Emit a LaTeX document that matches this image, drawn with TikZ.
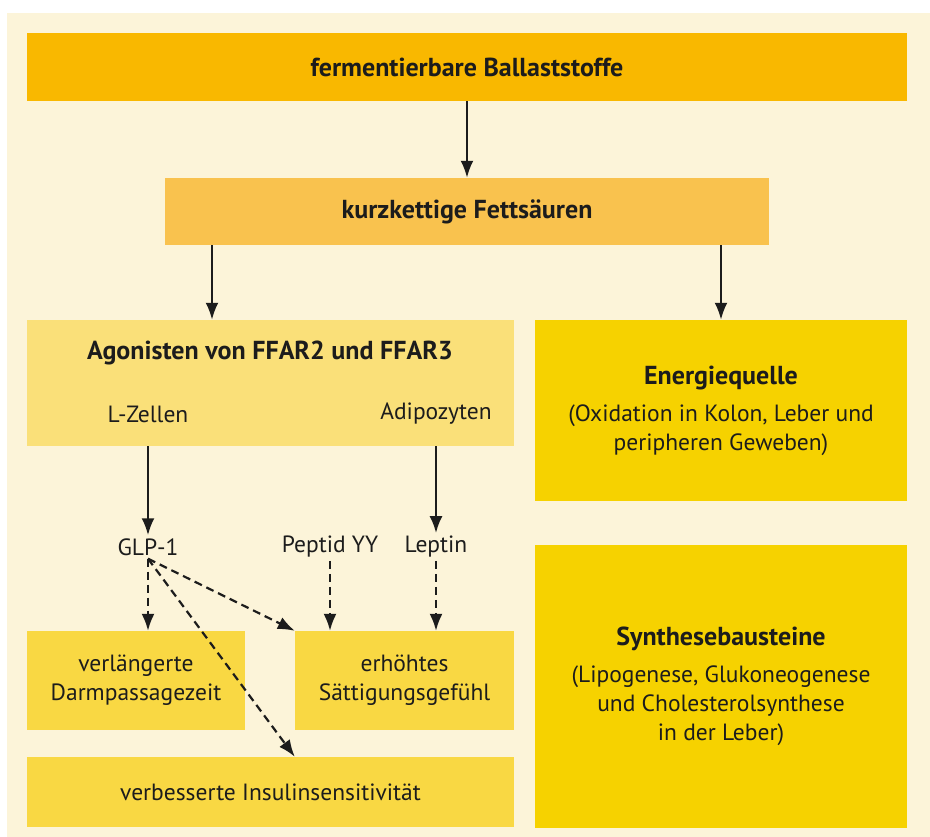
\documentclass[tikz,border=0pt]{standalone}
\usepackage{fontspec}
\setmainfont{PT Sans}
\usetikzlibrary{arrows.meta,positioning,calc}
\definecolor{bgcream}{HTML}{FCF4D9}
\definecolor{boxorange}{HTML}{F9B800}
\definecolor{boxlight}{HTML}{F9C24E}
\definecolor{boxpale}{HTML}{FAE079}
\definecolor{boxyellow}{HTML}{F9D843}
\definecolor{boxgold}{HTML}{F6D200}
\definecolor{ink}{HTML}{1C1C1C}
\newcommand{\ttl}[1]{{\fontsize{26}{29}\selectfont\bfseries #1}}

\begin{document}
\begin{tikzpicture}[x=1pt,y=-1pt,
	box/.style={inner sep=0pt, align=center, text=ink, font=\fontsize{23.5}{29}\selectfont},
	lbl/.style={inner sep=3pt, text=ink, font=\fontsize{23.5}{29}\selectfont},
	arr/.style={-{Latex[length=17pt,width=13pt]}, line width=2.4pt, draw=ink},
	darr/.style={arr, line width=2.2pt, dash pattern=on 8pt off 5pt}
]
	\useasboundingbox (0,0) rectangle (930,837);
	\fill[bgcream] (7,13) rectangle (930,837);

	% main chain
	\node[box, fill=boxorange, minimum width=880pt, minimum height=68pt] (fb) at (467,67) {\ttl{fermentierbare Ballaststoffe}};
	\node[box, fill=boxlight, minimum width=604pt, minimum height=67pt] (kf) at (467,211.5) {\ttl{kurzkettige Fettsäuren}};
	\node[box, fill=boxpale, minimum width=487pt, minimum height=126pt] (agon) at (270.5,383) {};
	\node[lbl] (agt) at (270,353) {\ttl{Agonisten von FFAR2 und FFAR3}};
	\node[lbl] (lz) at (148,414) {L-Zellen};
	\node[lbl] (adp) at (436,414) {Adipozyten};

	% right column
	\node[box, fill=boxgold, minimum width=372pt, minimum height=181pt] (en) at (721,410.5)
		{\ttl{Energiequelle}\\[8pt](Oxidation in Kolon, Leber und\\peripheren Geweben)};
	\node[box, fill=boxgold, minimum width=372pt, minimum height=283pt] (sb) at (721,686.5)
		{\ttl{Synthesebausteine}\\[8pt](Lipogenese, Glukoneogenese\\und Cholesterolsynthese\\in der Leber)};

	% hormones
	\node[lbl] (glp) at (148,547) {GLP-1};
	\node[lbl] (pyy) at (330,547) {Peptid YY};
	\node[lbl] (lep) at (436,547) {Leptin};

	% effects
	\node[box, fill=boxyellow, minimum width=218pt, minimum height=99pt] (vl) at (136,680.5) {verlängerte\\Darmpassagezeit};
	\node[box, fill=boxyellow, minimum width=219pt, minimum height=99pt] (eh) at (404.5,680.5) {erhöhtes\\Sättigungsgefühl};
	\node[box, fill=boxyellow, minimum width=487pt, minimum height=70pt] (vb) at (270.5,792) {verbesserte Insulinsensitivität};

	\draw[arr] (fb) -- (kf);
	\draw[arr] ([xshift=-255pt]kf.south) -- ([xshift=-255pt]kf.south |- agon.north);
	\draw[arr] (en.north |- kf.south) -- (en.north);
	\draw[arr] (lz |- agon.south) -- (glp.north);
	\draw[arr] (adp |- agon.south) -- (lep.north);

	\draw[darr] (glp.south) -- (vl.north -| glp.south);
	\draw[darr] (glp.south) -- (eh.north west);
	\draw[darr] (glp.south) -- (vb.north -| eh.west);
	\draw[darr] (pyy.south) -- (pyy.south |- eh.north);
	\draw[darr] (lep.south) -- (lep.south |- eh.north);
\end{tikzpicture}
\end{document}
